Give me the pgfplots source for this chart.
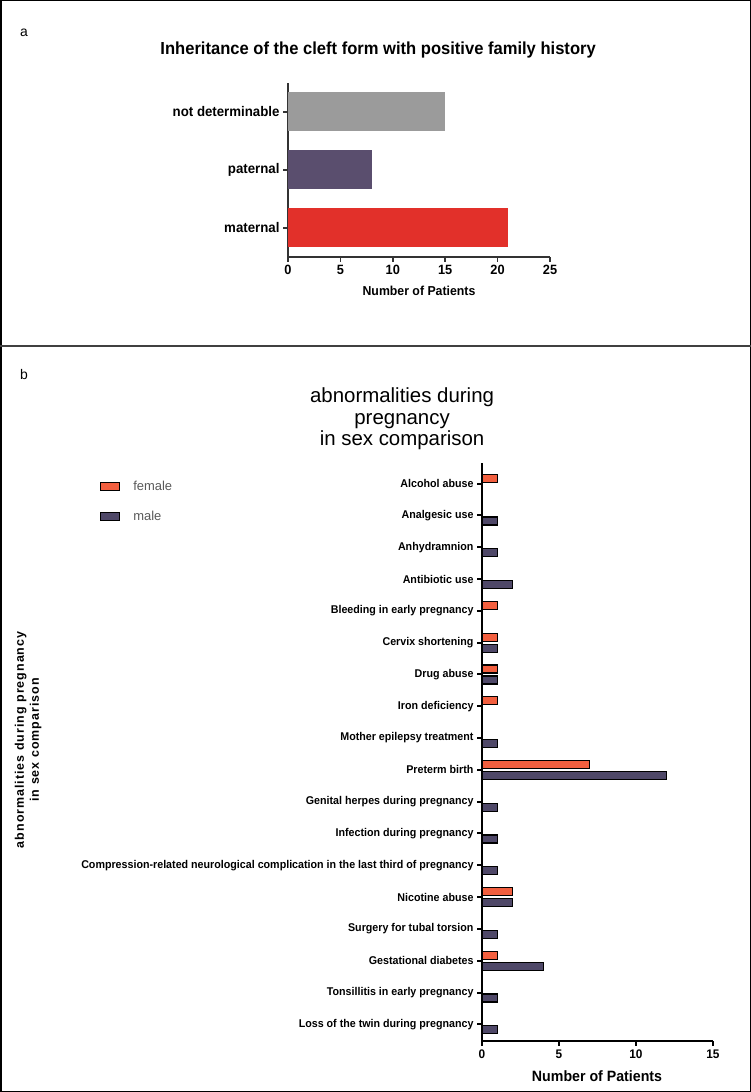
\documentclass[border=0pt]{standalone}
\usepackage{fontspec}
\setmainfont{Liberation Sans}
\newfontfamily\cnd[FakeStretch=0.95]{Liberation Sans}
\newfontfamily\spc[LetterSpace=8]{Liberation Sans}
\usepackage{pgfplots}
\pgfplotsset{compat=1.18}
\definecolor{cRed}{HTML}{E2302A}
\definecolor{cPur}{HTML}{5A4E6E}
\definecolor{cGray}{HTML}{9B9B9B}
\definecolor{fOr}{HTML}{F25F3F}
\definecolor{mPur}{HTML}{4F4868}
\begin{document}
\begin{tikzpicture}
\path[use as bounding box] (0,0) rectangle (751bp,1092bp);
\draw[line width=1.5bp] (0.75bp,0.75bp) rectangle (750.25bp,1091.25bp);
\draw[line width=2bp,black!75] (0,746bp) -- (751bp,746bp);
\node[anchor=center,font=\fontsize{14}{14}\selectfont] at (24bp,1059bp) {a};
\node[anchor=center,font=\fontsize{14}{14}\selectfont] at (24bp,717bp) {b};
% panel a
\begin{axis}[
 at={(288bp,835bp)}, anchor=south west, scale only axis, width=262bp, height=174bp,
 xbar, bar width=39bp, xmin=0, xmax=25, ymin=-0.5, ymax=2.5,
 axis lines=left, axis line style={-, line width=1.5bp, black!80},
 xtick={0,5,...,25}, ytick={0,1,2}, yticklabels={maternal,paternal,not determinable},
 tick align=outside, major tick length=5bp, tick style={line width=1.5bp, black!80},
 tick label style={font=\cnd\bfseries\fontsize{14}{14}\selectfont},
 xticklabel style={font=\cnd\bfseries\fontsize{13.5}{13.5}\selectfont},
 /pgf/number format/assume math mode=true,
 xlabel={Number of Patients},
 xlabel style={font=\cnd\bfseries\fontsize{13}{13}\selectfont, at={(axis description cs:0.5,-0.224)}, anchor=base},
 title={Inheritance of the cleft form with positive family history},
 title style={font=\cnd\bfseries\fontsize{17.5}{18}\selectfont, at={(axis description cs:0.344,1.132)}, anchor=base},
 clip=false,
]
\addplot[fill=cRed, draw=none, bar shift=0pt] coordinates {(21,0)};
\addplot[fill=cPur, draw=none, bar shift=0pt] coordinates {(8,1)};
\addplot[fill=cGray, draw=none, bar shift=0pt] coordinates {(15,2)};
\end{axis}
% panel b
\begin{axis}[
 at={(482bp,51bp)}, anchor=south west, scale only axis, width=231bp, height=578bp,
 xbar, bar width=8bp, xmin=0, xmax=15, ymin=-0.525, ymax=17.65,
 axis lines=left, axis line style={-, line width=2bp, black},
 xtick={0,5,10,15}, ytick={0,...,17},
 yticklabels={Loss of the twin during pregnancy, Tonsillitis in early pregnancy, Gestational diabetes, Surgery for tubal torsion, Nicotine abuse, Compression-related neurological complication in the last third of pregnancy, Infection during pregnancy, Genital herpes during pregnancy, Preterm birth, Mother epilepsy treatment, Iron deficiency, Drug abuse, Cervix shortening, Bleeding in early pregnancy, Antibiotic use, Anhydramnion, Analgesic use, Alcohol abuse},
 tick align=outside, major tick length=5bp, tick style={line width=2bp, black},
 tick label style={font=\cnd\bfseries\fontsize{11.3}{11.3}\selectfont},
 xticklabel style={font=\cnd\bfseries\fontsize{12.5}{12.5}\selectfont},
 /pgf/number format/assume math mode=true,
 xlabel={Number of Patients},
 xlabel style={font=\cnd\bfseries\fontsize{15}{15}\selectfont, at={(axis description cs:0.498,-0.0709)}, anchor=base},
 ylabel={abnormalities during pregnancy\\in sex comparison},
 ylabel style={font=\spc\bfseries\fontsize{12.5}{15}\selectfont, at={(axis description cs:-1.965,0.521)}, anchor=center, rotate=0, align=center},
 title={abnormalities during\\pregnancy\\in sex comparison},
 title style={font=\fontsize{20.5}{21.5}\selectfont, at={(axis description cs:-0.346,1.066)}, anchor=center, align=center},
 legend entries={female,male},
 legend style={at={(axis description cs:-1.667,0.976)}, anchor=north west, draw=none, fill=none, font=\fontsize{13}{14}\selectfont\color{black!65}, row sep=15bp},
 legend cell align=left,
 legend image code/.code={\draw[#1,line width=1.2bp] (0bp,-4bp) rectangle (19bp,4bp); \path (30bp,0bp);},
 clip=false,
]
\addplot[fill=fOr, draw=black, line width=1.2bp, bar shift=5.5bp] coordinates {(1,17) (1,13) (1,12) (1,11) (1,10) (7,8) (2,4) (1,2)};
\addplot[fill=mPur, draw=black, line width=1.2bp, bar shift=-5.5bp] coordinates {(1,16) (1,15) (2,14) (1,12) (1,11) (1,9) (12,8) (1,7) (1,6) (1,5) (2,4) (1,3) (4,2) (1,1) (1,0)};
\end{axis}
\end{tikzpicture}
\end{document}
